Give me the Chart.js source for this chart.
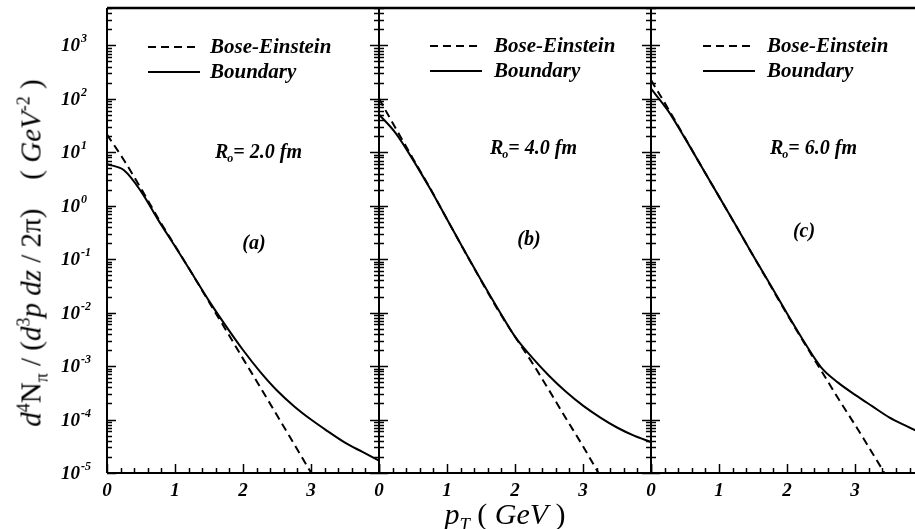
<!DOCTYPE html>
<html>
<head>
<meta charset="utf-8">
<script src="https://cdn.jsdelivr.net/npm/chart.js@4.4.1/dist/chart.umd.min.js"></script>
<style>
  html, body { margin: 0; padding: 0; background: #fff; overflow: hidden; }
  #wrap { position: relative; width: 915px; height: 529px; }
  #wrap canvas { position: absolute; left: 0; top: 0; }
  .title { position: absolute; white-space: nowrap; font-family: "Liberation Serif", serif; color: #000; line-height: 1; }
  .title sup, .title sub { font-size: 62%; line-height: 0; }
  #ytitle { left: 31px; top: 253px; font-size: 29px; transform: translate(-50%, -50%) rotate(-90deg); }
  #xtitle { left: 505px; top: 514px; font-size: 30px; transform: translate(-50%, -50%); }
</style>
</head>
<body>
<div id="wrap">
  <canvas id="panelA" width="915" height="529"></canvas>
  <canvas id="panelB" width="915" height="529"></canvas>
  <canvas id="panelC" width="915" height="529"></canvas>
  <div class="title" id="ytitle"><i>d</i><sup>4</sup>N<sub>π</sub> / (<i>d</i><sup>3</sup><i>p</i> <i>dz</i> / 2π) &nbsp;&nbsp; ( <i>GeV</i><sup>-2</sup> )</div>
  <div class="title" id="xtitle"><i>p</i><sub><i>T</i></sub> ( <i>GeV</i> )</div>
</div>
<script>
// pT grid (GeV)
const PT = [0, 0.25, 0.5, 0.75, 1.0, 1.25, 1.5, 1.75, 2.0, 2.25, 2.5, 2.75, 3.0, 3.25, 3.5, 3.75, 4.0];

// (a) Ro = 2.0 fm
const BE_A = [21.4, 7.1, 2.1, 0.59, 0.178, 0.054, 0.0158, 0.0047, 0.00138, 0.00041, 0.00012, 0.000035, 0.0000102, 0.000003];
const BD_A = [6.0, 4.6, 1.86, 0.55, 0.174, 0.054, 0.0166, 0.0056, 0.0020, 0.00079, 0.00035, 0.000178, 0.000100, 0.000060, 0.000037, 0.000025, 0.000017];

// (b) Ro = 4.0 fm
const BE_B = [100, 27.5, 7.6, 2.14, 0.56, 0.148, 0.040, 0.0112, 0.00355, 0.00117, 0.000355, 0.000105, 0.0000316, 0.0000089, 0.0000025];
const BD_B = [51, 22.4, 7.2, 2.09, 0.56, 0.148, 0.041, 0.0117, 0.00355, 0.00145, 0.00066, 0.00033, 0.000182, 0.00011, 0.000071, 0.00005, 0.000038];

// (c) Ro = 6.0 fm
const BE_C = [224, 66, 18.6, 5.2, 1.48, 0.42, 0.117, 0.033, 0.0093, 0.00275, 0.00083, 0.00025, 0.000079, 0.000024, 0.0000071, 0.000002];
const BD_C = [155, 60, 18.2, 5.2, 1.48, 0.42, 0.117, 0.034, 0.0096, 0.00285, 0.00095, 0.00049, 0.00029, 0.000178, 0.00011, 0.000076, 0.000054];

const X_LABELS = ['0', '1', '2', '3'];
const Y_EXPONENTS = ['-5', '-4', '-3', '-2', '-1', '0', '1', '2', '3'];
const LEGEND = ['Bose-Einstein', 'Boundary'];

const FONT = '"Liberation Serif", serif';

function pts(xs, ys) {
  return ys.map((y, i) => ({ x: xs[i], y: y }));
}

function seg(ctx, x1, y1, x2, y2) {
  ctx.beginPath();
  ctx.moveTo(x1, y1);
  ctx.lineTo(x2, y2);
  ctx.stroke();
}

// frame, inward ticks, tick labels, legend and notes
const framePlugin = {
  id: 'frame',
  afterDraw(chart) {
    const o = chart.options.plugins.frame;
    const { ctx, chartArea: a } = chart;
    const x = chart.scales.x, y = chart.scales.y;
    ctx.save();
    ctx.strokeStyle = '#000';
    ctx.fillStyle = '#000';

    // y ticks
    ctx.lineWidth = 1.5;
    for (let e = -5; e <= 3; e++) {
      for (let m = 1; m <= 9; m++) {
        const v = m * Math.pow(10, e);
        if (v > y.max) break;
        const py = Math.round(y.getPixelForValue(v)) + 0.5;
        const len = m === 1 ? 9 : 5;
        seg(ctx, a.left, py, a.left + len, py);
        if (o.rightTicks) seg(ctx, a.right, py, a.right - len, py);
      }
    }
    // x ticks
    for (let i = 0; i <= 20; i++) {
      const v = i / 5;
      if (v > x.max) break;
      const px = Math.round(x.getPixelForValue(v)) + 0.5;
      const len = i % 5 === 0 ? 9 : 5;
      seg(ctx, px, a.bottom, px, a.bottom - len);
    }

    // frame
    ctx.lineWidth = 2;
    seg(ctx, a.left, a.bottom, a.right, a.bottom);
    seg(ctx, a.left, a.top, a.left, a.bottom);
    if (o.rightTicks) seg(ctx, a.right, a.top, a.right, a.bottom);
    ctx.lineWidth = 2.5;
    seg(ctx, a.left, a.top, a.right, a.top);

    // x tick labels
    ctx.font = 'italic bold 19px ' + FONT;
    ctx.textAlign = 'center';
    ctx.textBaseline = 'alphabetic';
    X_LABELS.forEach(t => {
      ctx.fillText(t, x.getPixelForValue(Number(t)), a.bottom + 23);
    });

    // y tick labels
    if (o.yLabels) {
      ctx.textAlign = 'left';
      Y_EXPONENTS.forEach(ex => {
        const py = y.getPixelForValue(Math.pow(10, Number(ex)));
        ctx.font = 'italic bold 19px ' + FONT;
        ctx.fillText('10', 61, py + 6);
        const w = ctx.measureText('10').width;
        ctx.font = 'italic bold 12px ' + FONT;
        ctx.fillText(ex, 61 + w + 1, py - 3);
      });
    }

    // legend
    const L = o.legend;
    ctx.lineWidth = 2;
    ctx.setLineDash([8, 5]);
    seg(ctx, a.left + L.lineX, L.y1, a.left + L.lineX + 52, L.y1);
    ctx.setLineDash([]);
    seg(ctx, a.left + L.lineX, L.y2, a.left + L.lineX + 52, L.y2);
    ctx.font = 'italic bold 21px ' + FONT;
    ctx.textAlign = 'left';
    ctx.textBaseline = 'middle';
    ctx.fillText(LEGEND[0], a.left + L.textX, L.y1 + 1);
    ctx.fillText(LEGEND[1], a.left + L.textX, L.y2 + 1);

    // R_o note
    const R = o.radius;
    let rx = a.left + R.x;
    ctx.font = 'italic bold 20px ' + FONT;
    ctx.fillText('R', rx, R.y);
    rx += ctx.measureText('R').width;
    ctx.font = 'italic bold 12px ' + FONT;
    ctx.fillText('o', rx - 1, R.y + 6);
    rx += ctx.measureText('o').width;
    ctx.font = 'italic bold 20px ' + FONT;
    ctx.fillText('= ' + R.text, rx - 1, R.y);

    // panel tag
    ctx.textAlign = 'center';
    ctx.fillText(o.tag.text, a.left + o.tag.x, o.tag.y);
    ctx.restore();
  }
};

function makePanel(id, be, bd, opts) {
  return new Chart(document.getElementById(id), {
    type: 'line',
    data: {
      datasets: [
        {
          label: LEGEND[0],
          data: pts(PT, be),
          borderColor: '#000',
          borderWidth: 2,
          borderDash: [8, 5],
          pointRadius: 0,
          fill: false,
          cubicInterpolationMode: 'monotone'
        },
        {
          label: LEGEND[1],
          data: pts(PT, bd),
          borderColor: '#000',
          borderWidth: 2,
          pointRadius: 0,
          fill: false,
          cubicInterpolationMode: 'monotone'
        }
      ]
    },
    options: {
      responsive: false,
      animation: false,
      events: [],
      layout: { padding: opts.pad },
      plugins: {
        legend: { display: false },
        tooltip: { enabled: false },
        frame: opts
      },
      scales: {
        x: { type: 'linear', min: 0, max: opts.xmax, display: false },
        y: { type: 'logarithmic', min: 1e-5, max: 5000, display: false }
      }
    },
    plugins: [framePlugin]
  });
}

makePanel('panelA', BE_A, BD_A, {
  pad: { left: 107, right: 536, top: 8, bottom: 56 },
  xmax: 4, yLabels: true, rightTicks: true,
  legend: { lineX: 41, textX: 103, y1: 47, y2: 72 },
  radius: { x: 108, y: 153, text: '2.0 fm' },
  tag: { text: '(a)', x: 147, y: 244 }
});
makePanel('panelB', BE_B, BD_B, {
  pad: { left: 379, right: 264, top: 8, bottom: 56 },
  xmax: 4, yLabels: false, rightTicks: true,
  legend: { lineX: 51, textX: 115, y1: 46, y2: 71 },
  radius: { x: 111, y: 149, text: '4.0 fm' },
  tag: { text: '(b)', x: 150, y: 240 }
});
makePanel('panelC', BE_C, BD_C, {
  pad: { left: 651, right: 0, top: 8, bottom: 56 },
  xmax: 3.88, yLabels: false, rightTicks: false,
  legend: { lineX: 52, textX: 116, y1: 46, y2: 71 },
  radius: { x: 119, y: 149, text: '6.0 fm' },
  tag: { text: '(c)', x: 153, y: 232 }
});
</script>
</body>
</html>
